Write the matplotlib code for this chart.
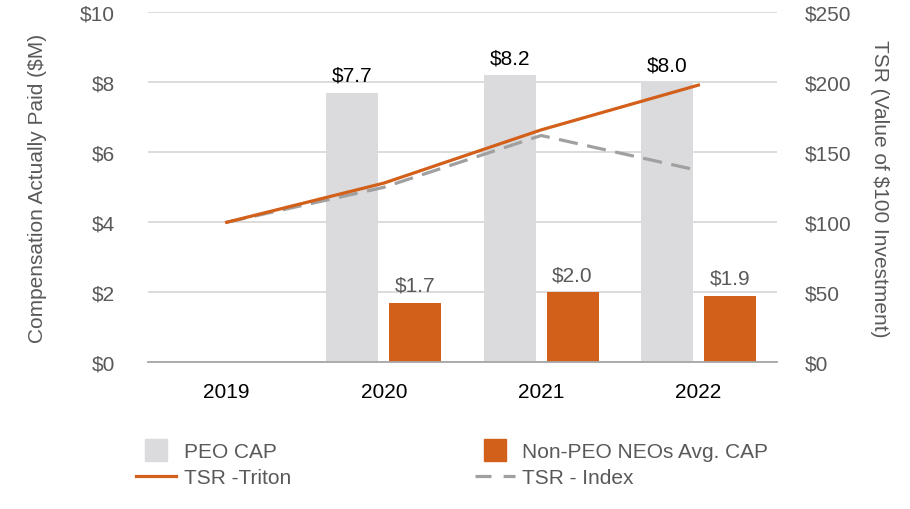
import matplotlib
matplotlib.use("Agg")
import matplotlib.pyplot as plt
from matplotlib.lines import Line2D
import numpy as np

plt.rcParams['font.family'] = ['Liberation Sans', 'DejaVu Sans']

years = ["2019", "2020", "2021", "2022"]
peo_cap = [0.0, 7.7, 8.2, 8.0]
non_peo_cap = [0.0, 1.7, 2.0, 1.9]
tsr_triton = [100, 128, 166, 198]
tsr_index = [100, 125, 162, 137]
left_ticks = [0, 2, 4, 6, 8, 10]
right_ticks = [0, 50, 100, 150, 200, 250]

C_PEO = "#DBDBDD"
C_NON = "#D2601A"
C_IDX = "#A0A0A0"
C_TXT = "#595959"
FS = 15

fig = plt.figure(figsize=(9.1, 5.1), dpi=100)
ax = fig.add_axes([148/910, 1-363.3/510, (777-148)/910, (363.3-13.3)/510])
x = np.arange(len(years))
w = 0.33
off = 0.2

ax.bar(x - off, peo_cap, width=w, color=C_PEO, zorder=2)
ax.bar(x + off, non_peo_cap, width=w, color=C_NON, zorder=2)
for i in range(len(years)):
    if peo_cap[i] > 0:
        ax.annotate(f"\\${peo_cap[i]:.1f}", (x[i]-off, peo_cap[i]), xytext=(0, 8.5),
                    textcoords="offset points", ha="center", va="baseline", fontsize=FS, color="black")
    if non_peo_cap[i] > 0:
        ax.annotate(f"\\${non_peo_cap[i]:.1f}", (x[i]+off, non_peo_cap[i]), xytext=(0, 8.5),
                    textcoords="offset points", ha="center", va="baseline", fontsize=FS, color=C_TXT)

ax.set_xlim(-0.5, len(years)-0.5)
ax.set_ylim(0, 10)
ax.set_yticks(left_ticks)
ax.set_yticklabels([f"\\${v}" for v in left_ticks])
ax.set_xticks(x)
ax.set_xticklabels(years)
ax.tick_params(axis="y", length=0, pad=24, labelsize=FS, labelcolor=C_TXT)
ax.tick_params(axis="x", length=0, pad=14, labelsize=FS, labelcolor="black")
ax.grid(axis="y", color="#D9D9D9", linewidth=1.3, zorder=0)
ax.set_axisbelow(True)
for s in ["top", "left", "right"]:
    ax.spines[s].set_visible(False)
ax.spines["bottom"].set_color("#A6A6A6")
ax.spines["bottom"].set_linewidth(1.3)
ax.spines["bottom"].set_zorder(3)

ax2 = ax.twinx()
ax2.set_ylim(0, 250)
ax2.set_yticks(right_ticks)
ax2.set_yticklabels([f"\\${v}" for v in right_ticks])
ax2.tick_params(axis="y", length=0, pad=20, labelsize=FS, labelcolor=C_TXT)
for s in ["top", "left", "right", "bottom"]:
    ax2.spines[s].set_visible(False)
ax2.plot(x, tsr_triton, color=C_NON, linewidth=2.3, zorder=4)
ax2.plot(x, tsr_index, color=C_IDX, linewidth=2.3, dashes=(6, 3), zorder=3)

yc = 1 - 188.3/510
fig.text(38/910, yc, "Compensation Actually Paid (\\$M)", rotation=90, ha="center", va="center",
         fontsize=FS, color=C_TXT)
fig.text(880/910, yc, "TSR (Value of \\$100 Investment)", rotation=270, ha="center", va="center",
         fontsize=FS, color=C_TXT)

h_peo = Line2D([], [], linestyle="none", marker="s", markersize=15.5, markerfacecolor=C_PEO,
               markeredgecolor=C_PEO)
h_non = Line2D([], [], linestyle="none", marker="s", markersize=15.5, markerfacecolor=C_NON,
               markeredgecolor=C_NON)
h_tri = Line2D([], [], color=C_NON, linewidth=2.3)
h_idx = Line2D([], [], color=C_IDX, linewidth=2.3, dashes=(5, 3.8))
leg = fig.legend([h_peo, h_tri, h_non, h_idx],
                 ["PEO CAP", "TSR -Triton", "Non-PEO NEOs Avg. CAP", "TSR - Index"],
                 ncol=2, loc="upper left", bbox_to_anchor=(136/910, 1-443/510),
                 frameon=False, fontsize=FS, labelcolor=C_TXT, handlelength=1.92,
                 handletextpad=0.38, columnspacing=8.8, labelspacing=0.35,
                 borderpad=0, borderaxespad=0)

fig.savefig("out.png", dpi=100)
